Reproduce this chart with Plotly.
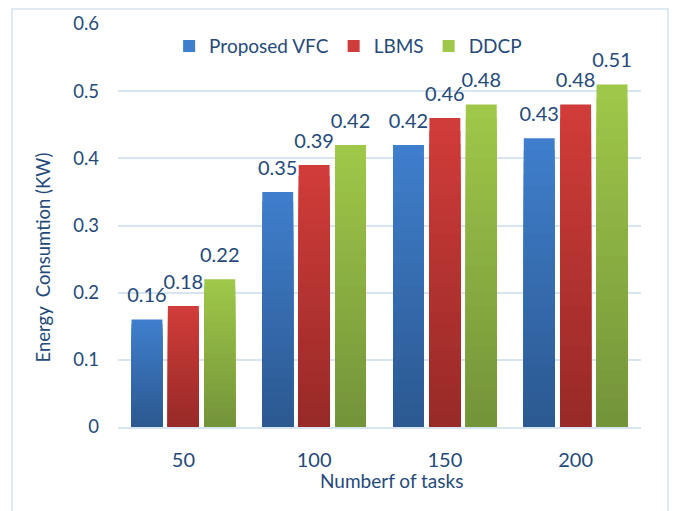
import plotly.graph_objects as go

# Data
tasks = ["50", "100", "150", "200"]
series_names = ["Proposed VFC", "LBMS", "DDCP"]
vfc = [0.16, 0.35, 0.42, 0.43]
lbms = [0.18, 0.39, 0.46, 0.48]
ddcp = [0.22, 0.42, 0.48, 0.51]

# Top (light) and bottom (dark) colours of each series' vertical gradient
top_colors = ["#3f7ecc", "#d03c39", "#9fc749"]
bottom_colors = ["#2c5991", "#982a27", "#74943a"]

TEXT = "#254a7a"
GRID = "#d9e4f1"
FONT = "Lato"
N_BANDS = 24


def hex_to_rgb(h):
    h = h.lstrip("#")
    return tuple(int(h[i:i + 2], 16) for i in (0, 2, 4))


def blend(c1, c2, t):
    a, b = hex_to_rgb(c1), hex_to_rgb(c2)
    return "rgb(%d,%d,%d)" % tuple(round(a[i] + (b[i] - a[i]) * t) for i in range(3))


fig = go.Figure()

all_values = [vfc, lbms, ddcp]

for s, (name, vals) in enumerate(zip(series_names, all_values)):
    # Full-height bar in the top colour, then progressively shorter, darker
    # bars overlaid on it give each column a vertical gradient.
    for k in range(N_BANDS):
        frac = 1 - k / N_BANDS
        first = k == 0
        fig.add_trace(go.Bar(
            x=tasks,
            y=[v * frac for v in vals],
            name=name,
            offsetgroup=str(s),
            legendgroup=name,
            showlegend=first,
            marker=dict(color=blend(top_colors[s], bottom_colors[s], k / (N_BANDS - 1)),
                        line=dict(width=0)),
            hoverinfo="x+y+name" if first else "skip",
        ))

# Value labels above each bar, aligned with the bar groups
for s, (name, vals) in enumerate(zip(series_names, all_values)):
    fig.add_trace(go.Scatter(
        x=tasks,
        y=vals,
        mode="markers+text",
        offsetgroup=str(s),
        legendgroup=name,
        showlegend=False,
        marker=dict(size=18, opacity=0),
        text=[f"{v:.2f}" for v in vals],
        textposition="top center",
        textfont=dict(color=TEXT, size=20, family=FONT),
        cliponaxis=False,
        hoverinfo="skip",
    ))

fig.update_layout(
    width=675,
    height=511,
    margin=dict(l=118, r=34, t=20, b=84),
    paper_bgcolor="white",
    plot_bgcolor="white",
    barmode="group",
    bargap=0.165,
    bargroupgap=0.15,
    scattermode="group",
    scattergap=0.165,
    font=dict(family=FONT, color=TEXT, size=16),
    showlegend=True,
    legend=dict(
        orientation="h",
        x=0.44, xanchor="center",
        y=0.945, yanchor="middle",
        bgcolor="rgba(0,0,0,0)",
        font=dict(size=19, color=TEXT, family=FONT),
        itemwidth=30,
        traceorder="normal",
    ),
    xaxis=dict(
        tickfont=dict(size=20, color=TEXT),
        showgrid=False,
        showline=True,
        linecolor=GRID,
        linewidth=2,
        ticks="",
        ticklabelstandoff=14,
    ),
    yaxis=dict(
        range=[0, 0.6],
        dtick=0.1,
        tickfont=dict(size=18.5, color=TEXT),
        showgrid=True,
        gridcolor=GRID,
        gridwidth=2,
        zeroline=False,
        ticks="",
        ticklabelstandoff=18,
    ),
    annotations=[
        dict(text="Numberf of tasks", xref="paper", yref="paper",
             x=0.523, y=-0.133, xanchor="center", yanchor="middle",
             showarrow=False, font=dict(size=19, color=TEXT, family=FONT)),
        dict(text="Energy  Consumtion (KW)", xref="paper", yref="paper",
             x=-0.144, y=0.42, xanchor="center", yanchor="middle", textangle=-90,
             showarrow=False, font=dict(size=18.5, color=TEXT, family=FONT)),
    ],
    shapes=[dict(
        type="rect", xref="paper", yref="paper",
        x0=-0.2027, x1=1.0516, y0=-0.25, y1=1.037,
        line=dict(color="#d6e2f0", width=1.5),
        fillcolor="rgba(0,0,0,0)",
        layer="below",
    )],
)

fig.write_html("out.html")
